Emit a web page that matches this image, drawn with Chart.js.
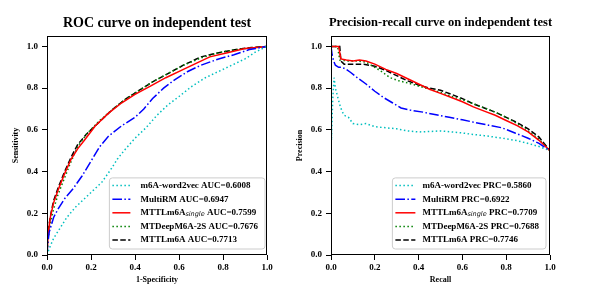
<!DOCTYPE html>
<html>
<head>
<meta charset="utf-8">
<script src="https://cdn.jsdelivr.net/npm/chart.js@4/dist/chart.umd.min.js"></script>
<style>
  html, body { margin: 0; padding: 0; background: #fff; }
  body { width: 599px; height: 299px; position: relative; overflow: hidden; }
  .box { position: absolute; top: 0; height: 299px; }
  #b1 { left: 0; width: 290px; }
  #b2 { left: 290px; width: 309px; }
</style>
</head>
<body>
<div class="box" id="b1"><canvas id="c1"></canvas></div>
<div class="box" id="b2"><canvas id="c2"></canvas></div>
<script>
// ---------- DATA ----------
const tickValues = [0.0, 0.2, 0.4, 0.6, 0.8, 1.0];

const rocTitle = "ROC curve on independent test";
const prTitle = "Precision-recall curve on independent test";

const rocLabels = [
  "m6A-word2vec AUC=0.6008",
  "MultiRM AUC=0.6947",
  "MTTLm6A_{single} AUC=0.7599",
  "MTDeepM6A-2S AUC=0.7676",
  "MTTLm6A AUC=0.7713"
];
const prLabels = [
  "m6A-word2vec PRC=0.5860",
  "MultiRM PRC=0.6922",
  "MTTLm6A_{single} PRC=0.7709",
  "MTDeepM6A-2S PRC=0.7688",
  "MTTLm6A PRC=0.7746"
];

// ROC curves: false positive rate (1-specificity) / sensitivity
const rocW2vX = [0,0.01,0.03,0.06,0.09,0.13,0.17,0.21,0.25,0.29,0.32,0.35,0.40,0.45,0.50,0.55,0.60,0.66,0.72,0.78,0.84,0.90,0.95,1];
const rocW2vY = [0,0.03,0.08,0.13,0.18,0.23,0.27,0.31,0.35,0.41,0.46,0.50,0.56,0.61,0.67,0.72,0.76,0.81,0.85,0.88,0.91,0.94,0.975,1];

const rocMultiX = [0,0.003,0.01,0.03,0.05,0.08,0.12,0.16,0.20,0.24,0.28,0.34,0.40,0.44,0.48,0.53,0.58,0.64,0.70,0.78,0.85,0.92,1];
const rocMultiY = [0,0.05,0.11,0.18,0.22,0.27,0.32,0.38,0.45,0.52,0.57,0.62,0.66,0.70,0.75,0.80,0.84,0.88,0.91,0.94,0.96,0.985,1];

const rocSingleX = [0,0.005,0.015,0.03,0.05,0.08,0.11,0.14,0.17,0.22,0.28,0.34,0.40,0.47,0.54,0.62,0.68,0.74,0.82,0.90,1];
const rocSingleY = [0,0.10,0.18,0.25,0.31,0.39,0.46,0.51,0.55,0.62,0.68,0.73,0.77,0.81,0.85,0.89,0.92,0.95,0.97,0.99,1];

const rocDeepX = [0,0.005,0.015,0.03,0.05,0.08,0.11,0.14,0.18,0.24,0.30,0.36,0.42,0.48,0.55,0.62,0.70,0.78,0.86,1];
const rocDeepY = [0,0.08,0.15,0.22,0.29,0.37,0.45,0.52,0.58,0.645,0.70,0.75,0.79,0.83,0.87,0.91,0.945,0.97,0.985,1];

const rocMttlX = [0,0.002,0.01,0.02,0.03,0.05,0.08,0.11,0.14,0.18,0.24,0.30,0.36,0.42,0.48,0.55,0.62,0.70,0.78,0.86,0.93,1];
const rocMttlY = [0,0.06,0.15,0.21,0.26,0.32,0.40,0.47,0.53,0.58,0.64,0.70,0.75,0.79,0.83,0.87,0.91,0.95,0.97,0.985,0.995,1];

// PR curves: recall / precision
const prW2vX = [0,0.002,0.008,0.014,0.02,0.03,0.04,0.05,0.06,0.08,0.10,0.13,0.16,0.20,0.25,0.30,0.35,0.40,0.45,0.50,0.55,0.60,0.65,0.70,0.75,0.80,0.85,0.90,0.95,1];
const prW2vY = [1.0,0.55,0.75,0.85,0.80,0.76,0.72,0.69,0.67,0.66,0.63,0.625,0.63,0.615,0.61,0.605,0.595,0.59,0.592,0.595,0.59,0.585,0.578,0.572,0.565,0.557,0.548,0.535,0.52,0.50];

const prMultiX = [0,0.005,0.012,0.02,0.035,0.05,0.07,0.09,0.12,0.16,0.20,0.24,0.28,0.32,0.36,0.42,0.48,0.54,0.60,0.66,0.72,0.78,0.84,0.90,0.95,1];
const prMultiY = [1.0,0.96,0.93,0.91,0.90,0.90,0.89,0.875,0.85,0.82,0.785,0.755,0.73,0.705,0.695,0.685,0.672,0.66,0.648,0.635,0.622,0.61,0.585,0.56,0.535,0.50];

const prSingleX = [0,0.035,0.045,0.07,0.10,0.13,0.16,0.20,0.25,0.30,0.35,0.40,0.45,0.50,0.55,0.60,0.65,0.70,0.75,0.80,0.85,0.90,0.95,1];
const prSingleY = [1.0,1.0,0.94,0.935,0.93,0.935,0.93,0.915,0.89,0.87,0.845,0.82,0.795,0.775,0.755,0.735,0.71,0.69,0.67,0.645,0.62,0.59,0.55,0.50];

const prDeepX = [0,0.03,0.04,0.08,0.12,0.16,0.20,0.23,0.27,0.31,0.35,0.40,0.45,0.50,0.55,0.60,0.65,0.70,0.75,0.80,0.85,0.90,0.95,1];
const prDeepY = [1.0,1.0,0.935,0.93,0.93,0.925,0.90,0.88,0.85,0.835,0.825,0.81,0.795,0.78,0.76,0.745,0.725,0.705,0.685,0.66,0.63,0.595,0.555,0.50];

const prMttlX = [0,0.04,0.045,0.06,0.10,0.15,0.20,0.25,0.30,0.35,0.40,0.45,0.50,0.55,0.60,0.65,0.70,0.75,0.80,0.85,0.90,0.95,1];
const prMttlY = [1.0,1.0,0.93,0.915,0.915,0.915,0.905,0.885,0.86,0.835,0.815,0.80,0.79,0.77,0.75,0.725,0.705,0.685,0.66,0.635,0.605,0.565,0.50];

// ---------- STYLES ----------
const seriesStyles = [
  { color: '#00BFBF', dash: [1.5, 2.5] },
  { color: '#0000FF', dash: [9.6, 2.4, 1.5, 2.4] },
  { color: '#FF0000', dash: [] },
  { color: '#008000', dash: [1.5, 2.5] },
  { color: '#000000', dash: [5.5, 2.4] }
];

const SERIF = '"Liberation Serif", "Times New Roman", serif';

function pts(xs, ys) { return xs.map((x, i) => ({ x: x, y: ys[i] })); }

function makeDatasets(labels, pairs) {
  return pairs.map((p, i) => ({
    label: labels[i],
    data: pts(p[0], p[1]),
    borderColor: seriesStyles[i].color,
    backgroundColor: seriesStyles[i].color,
    borderDash: seriesStyles[i].dash,
    borderWidth: 1.5,
    pointRadius: 0,
    tension: 0,
    fill: false
  }));
}

function splitLabel(label) {
  const m = label.match(/^(.*?)_\{(.*?)\}(.*)$/);
  if (!m) return [{ t: label, sub: false }];
  return [{ t: m[1], sub: false }, { t: m[2], sub: true }, { t: m[3], sub: false }];
}

const mainFont = 'bold 9px ' + SERIF;
const subFont = 'italic 6.5px "DejaVu Sans", sans-serif';

const decorPlugin = {
  id: 'decor',
  afterDraw(chart, args, opts) {
    const ctx = chart.ctx;
    const a = chart.chartArea;
    ctx.save();
    // frame around the plot
    ctx.strokeStyle = '#000';
    ctx.lineWidth = 1;
    ctx.setLineDash([]);
    ctx.strokeRect(Math.round(a.left) + 0.5, Math.round(a.top) + 0.5,
                   Math.round(a.right - a.left) - 1, Math.round(a.bottom - a.top) - 1);
    // title
    ctx.fillStyle = '#000';
    ctx.font = 'bold ' + opts.titleSize + 'px ' + SERIF;
    ctx.textAlign = 'center';
    ctx.textBaseline = 'middle';
    ctx.fillText(opts.title, (a.left + a.right) / 2, 23);

    // legend
    const ds = chart.data.datasets;
    let maxW = 0;
    const widths = ds.map(d => {
      let w = 0;
      splitLabel(d.label).forEach(p => {
        ctx.font = p.sub ? subFont : mainFont;
        w += ctx.measureText(p.t).width;
      });
      maxW = Math.max(maxW, w);
      return w;
    });
    const padL = 3, lineLen = opts.lineLen, gap = opts.gap, padR = 7;
    const rowH = 13.6, padT = 7.7, padB = 9;
    const bw = padL + lineLen + gap + maxW + padR;
    const bh = padT + rowH * (ds.length - 1) + padB;
    const bx = a.right - opts.rightOff - bw;
    const by = a.bottom - opts.bottomOff - bh;
    // rounded box
    const r = 3;
    ctx.beginPath();
    ctx.moveTo(bx + r, by);
    ctx.lineTo(bx + bw - r, by);
    ctx.quadraticCurveTo(bx + bw, by, bx + bw, by + r);
    ctx.lineTo(bx + bw, by + bh - r);
    ctx.quadraticCurveTo(bx + bw, by + bh, bx + bw - r, by + bh);
    ctx.lineTo(bx + r, by + bh);
    ctx.quadraticCurveTo(bx, by + bh, bx, by + bh - r);
    ctx.lineTo(bx, by + r);
    ctx.quadraticCurveTo(bx, by, bx + r, by);
    ctx.closePath();
    ctx.fillStyle = 'rgba(255,255,255,0.85)';
    ctx.fill();
    ctx.strokeStyle = '#cccccc';
    ctx.lineWidth = 1;
    ctx.stroke();

    ds.forEach((d, i) => {
      const y = by + padT + rowH * i;
      ctx.save();
      ctx.strokeStyle = d.borderColor;
      ctx.lineWidth = 1.5;
      ctx.setLineDash(d.borderDash || []);
      ctx.beginPath();
      ctx.moveTo(bx + padL, y);
      ctx.lineTo(bx + padL + lineLen, y);
      ctx.stroke();
      ctx.restore();
      let x = bx + padL + lineLen + gap;
      ctx.fillStyle = '#000';
      ctx.textAlign = 'left';
      ctx.textBaseline = 'middle';
      splitLabel(d.label).forEach(p => {
        ctx.font = p.sub ? subFont : mainFont;
        ctx.fillText(p.t, x, p.sub ? y + 2 : y);
        x += ctx.measureText(p.t).width;
      });
    });
    ctx.restore();
  }
};

function axisCommon(titleText, isX, yAxisWidth, xTitlePad) {
  return {
    type: 'linear',
    min: 0,
    max: isX ? 1.0 : 1.05,
    afterBuildTicks: s => { s.ticks = tickValues.map(v => ({ value: v })); },
    afterFit: s => { if (isX) s.height = 44; else s.width = yAxisWidth; },
    border: { display: false },
    grid: {
      display: true,
      drawOnChartArea: false,
      drawTicks: true,
      tickLength: 5,
      tickColor: '#000',
      tickWidth: 1
    },
    ticks: {
      color: '#000',
      font: { family: SERIF, size: 9, weight: 'bold' },
      padding: isX ? 2 : 4,
      maxRotation: 0,
      autoSkip: false,
      callback: v => Number(v).toFixed(1)
    },
    title: {
      display: true,
      text: titleText,
      color: '#000',
      font: { family: SERIF, size: 8, weight: 'bold' },
      padding: isX ? { top: 0, bottom: 14 } : { top: xTitlePad, bottom: 0 }
    }
  };
}

function makeChart(id, datasets, cfg) {
  return new Chart(document.getElementById(id), {
    type: 'line',
    data: { datasets: datasets },
    options: {
      responsive: true,
      maintainAspectRatio: false,
      animation: false,
      parsing: true,
      layout: { padding: { top: 36, right: cfg.padRight, bottom: 0, left: 0 } },
      scales: {
        x: axisCommon(cfg.xTitle, true),
        y: axisCommon(cfg.yTitle, false, cfg.yWidth, cfg.yTitlePad)
      },
      plugins: {
        legend: { display: false },
        tooltip: { enabled: false },
        decor: {
          title: cfg.title, titleSize: cfg.titleSize,
          rightOff: cfg.legRight, bottomOff: 6,
          lineLen: cfg.lineLen, gap: cfg.gap
        }
      }
    },
    plugins: [decorPlugin]
  });
}

makeChart('c1', makeDatasets(rocLabels, [
  [rocW2vX, rocW2vY], [rocMultiX, rocMultiY], [rocSingleX, rocSingleY],
  [rocDeepX, rocDeepY], [rocMttlX, rocMttlY]
]), {
  title: rocTitle, titleSize: 14, xTitle: '1-Specificity', yTitle: 'Sensitivity',
  padRight: 23, yWidth: 47, yTitlePad: 11, legRight: 2, lineLen: 18, gap: 10
});

makeChart('c2', makeDatasets(prLabels, [
  [prW2vX, prW2vY], [prMultiX, prMultiY], [prSingleX, prSingleY],
  [prDeepX, prDeepY], [prMttlX, prMttlY]
]), {
  title: prTitle, titleSize: 12.5, xTitle: 'Recall', yTitle: 'Precision',
  padRight: 49, yWidth: 41, yTitlePad: 5, legRight: 4, lineLen: 20, gap: 7
});
</script>
</body>
</html>
